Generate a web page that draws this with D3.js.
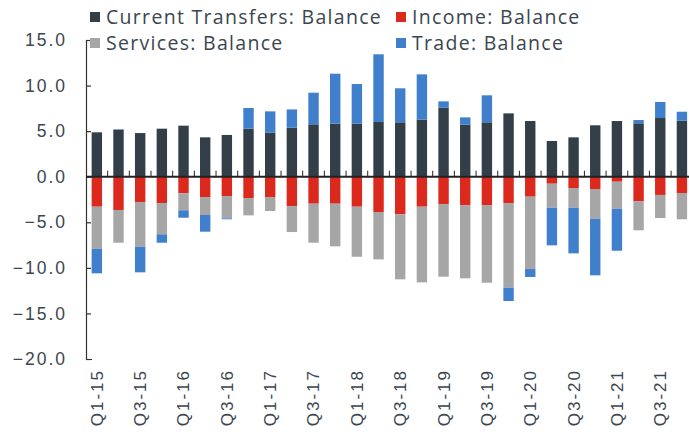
<!DOCTYPE html>
<html>
<head>
<meta charset="utf-8">
<script src="https://cdn.jsdelivr.net/npm/d3@7"></script>
<style>
  body { margin: 0; background: #fff; }
  svg { display: block; font-family: "Open Sans", sans-serif; }
  .axis text { fill: #3b4650; }
</style>
</head>
<body>
<div id="chart"></div>
<script>
// chart size
var w = 689;
var h = 438;

// quarters on the x axis
var quarters = ["Q1-15", "Q2-15", "Q3-15", "Q4-15", "Q1-16", "Q2-16", "Q3-16", "Q4-16",
  "Q1-17", "Q2-17", "Q3-17", "Q4-17", "Q1-18", "Q2-18", "Q3-18", "Q4-18",
  "Q1-19", "Q2-19", "Q3-19", "Q4-19", "Q1-20", "Q2-20", "Q3-20", "Q4-20",
  "Q1-21", "Q2-21", "Q3-21", "Q4-21"];

// series values
var currentTransfers = [4.87, 5.16, 4.79, 5.27, 5.6, 4.32, 4.58, 5.27, 4.83, 5.38, 5.75, 5.82, 5.82, 6.0,
  5.97, 6.26, 7.57, 5.71, 5.97, 6.95, 6.11, 3.92, 4.32, 5.64, 6.11, 5.86, 6.44, 6.15];
var income = [-3.29, -3.65, -2.78, -2.89, -1.82, -2.23, -2.12, -2.34, -2.23, -3.22, -2.96, -2.96, -3.29, -3.87,
  -4.13, -3.29, -3.0, -3.11, -3.11, -2.89, -2.19, -0.77, -1.24, -1.35, -0.55, -2.7, -2.0, -1.79];
var services = [-4.61, -3.59, -4.9, -3.43, -1.87, -1.97, -2.45, -1.9, -1.53, -2.85, -4.28, -4.68, -5.49, -5.2,
  -7.13, -8.3, -7.97, -8.04, -8.52, -9.29, -7.94, -2.63, -2.16, -3.26, -2.96, -3.18, -2.53, -2.88];
var trade = [-2.7, 0.05, -2.81, -0.92, -0.81, -1.83, -0.1, 2.27, 2.34, 2.0, 3.47, 5.48, 4.35, 7.43,
  3.73, 4.97, 0.7, 0.8, 2.96, -1.46, -0.87, -4.13, -5.01, -6.21, -4.61, 0.36, 1.76, 0.98];

// y tick values
var yTicks = [15, 10, 5, 0, -5, -10, -15, -20];

// series names and colours
var seriesNames = ["Current Transfers: Balance", "Income: Balance", "Services: Balance", "Trade: Balance"];
var seriesColors = ["#333f48", "#dc291e", "#a6a6a6", "#3f7fcc"];

// build rows for d3.stack
var rows = quarters.map(function(q, i) {
  return {
    quarter: q,
    "Current Transfers: Balance": currentTransfers[i],
    "Income: Balance": income[i],
    "Services: Balance": services[i],
    "Trade: Balance": trade[i]
  };
});

var stacked = d3.stack()
  .keys(seriesNames)
  .offset(d3.stackOffsetDiverging)(rows);

var axisX = 86;

var xScale = d3.scaleBand()
  .domain(quarters)
  .range([axisX, axisX + 28 * 21.67])
  .paddingInner(0.52)
  .paddingOuter(0.26);

var yScale = d3.scaleLinear()
  .domain([-20, 15])
  .range([359, 40]);

var color = d3.scaleOrdinal().domain(seriesNames).range(seriesColors);

var svg = d3.select("#chart")
  .append("svg")
  .attr("width", w)
  .attr("height", h);

// bars
svg.append("g")
  .selectAll("g")
  .data(stacked)
  .join("g")
  .attr("fill", function(d) { return color(d.key); })
  .selectAll("rect")
  .data(function(d) { return d; })
  .join("rect")
  .attr("x", function(d) { return xScale(d.data.quarter); })
  .attr("width", xScale.bandwidth())
  .attr("y", function(d) { return yScale(Math.max(d[0], d[1])); })
  .attr("height", function(d) { return Math.abs(yScale(d[0]) - yScale(d[1])); });

// y axis
var yAxis = d3.axisLeft(yScale)
  .tickValues(yTicks)
  .tickFormat(d3.format(".1f"))
  .tickSizeInner(-5)
  .tickSizeOuter(-6)
  .tickPadding(19);

var yG = svg.append("g")
  .attr("class", "axis")
  .attr("transform", "translate(" + axisX + ",0)")
  .call(yAxis);
yG.selectAll("path, line").attr("stroke", "#333").attr("stroke-width", 1.2);
yG.selectAll("text")
  .attr("font-size", 17.5)
  .attr("letter-spacing", 2)
  .attr("fill", "#3b4650");

// zero line with small ticks between the bars
var zeroG = svg.append("g");
zeroG.append("line")
  .attr("x1", axisX)
  .attr("x2", w)
  .attr("y1", yScale(0))
  .attr("y2", yScale(0))
  .attr("stroke", "#222")
  .attr("stroke-width", 2);

zeroG.selectAll("line.tick")
  .data(quarters.slice(1))
  .join("line")
  .attr("class", "tick")
  .attr("x1", function(d) { return xScale(d) - xScale.step() * xScale.paddingInner() / 2; })
  .attr("x2", function(d) { return xScale(d) - xScale.step() * xScale.paddingInner() / 2; })
  .attr("y1", yScale(0) - 6)
  .attr("y2", yScale(0))
  .attr("stroke", "#222")
  .attr("stroke-width", 1);

// x labels (every other quarter)
var xAxis = d3.axisBottom(xScale)
  .tickValues(quarters.filter(function(d, i) { return i % 2 == 0; }))
  .tickSize(0)
  .tickPadding(0);

var xG = svg.append("g")
  .attr("class", "axis")
  .attr("transform", "translate(0,369)")
  .call(xAxis);
xG.select(".domain").remove();
xG.selectAll("text")
  .attr("font-size", 17)
  .attr("letter-spacing", 2)
  .attr("fill", "#3b4650")
  .attr("text-anchor", "end")
  .attr("transform", "rotate(-90)")
  .attr("x", 0)
  .attr("y", 0)
  .attr("dy", "0.35em");

// legend
var legendPos = [[90, 17], [396, 17], [90, 43], [396, 43]];
var legendOrder = [0, 1, 2, 3];

var legend = svg.append("g")
  .selectAll("g")
  .data(legendOrder)
  .join("g")
  .attr("transform", function(d, i) { return "translate(" + legendPos[i][0] + "," + legendPos[i][1] + ")"; });

legend.append("rect")
  .attr("x", 0)
  .attr("y", -5)
  .attr("width", 10)
  .attr("height", 10)
  .attr("fill", function(d) { return seriesColors[d]; });

legend.append("text")
  .attr("x", 16)
  .attr("y", 0)
  .attr("dy", "0.35em")
  .attr("font-size", 19.5)
  .attr("letter-spacing", 1.3)
  .attr("fill", "#3b4650")
  .text(function(d) { return seriesNames[d]; });
</script>
</body>
</html>
